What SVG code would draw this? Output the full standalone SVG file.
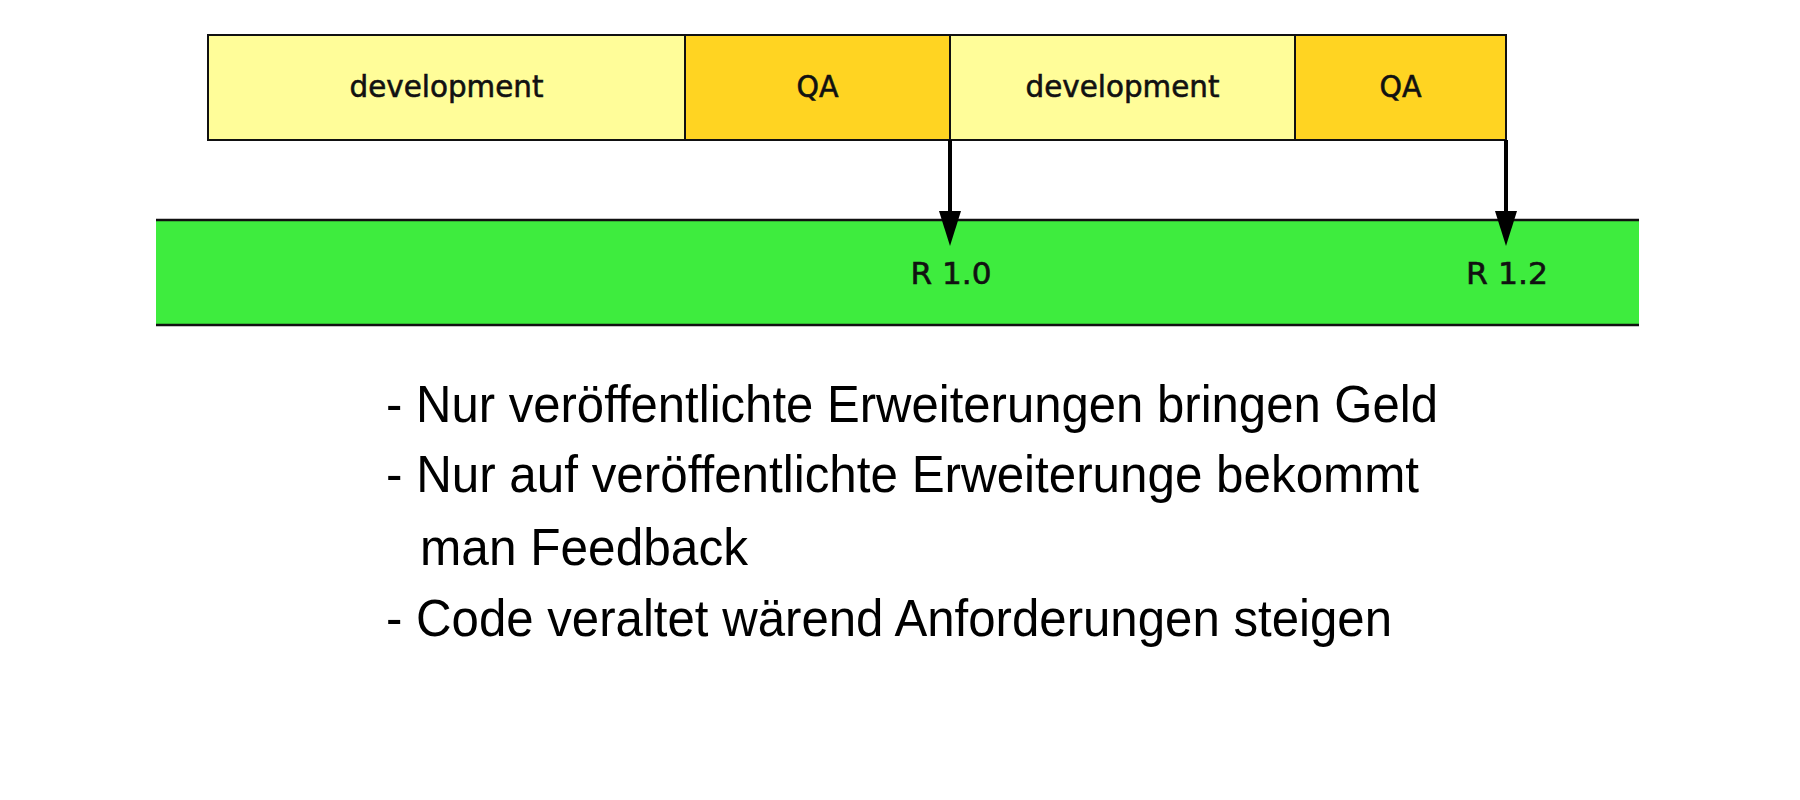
<svg xmlns="http://www.w3.org/2000/svg" width="1800" height="800" viewBox="0 0 1800 800">
  <style>
    .dev { fill: #FFFD99; stroke: #111; stroke-width: 2; }
    .qa { fill: #FFD422; stroke: #111; stroke-width: 2; }
    .lbl { font-family: "DejaVu Sans", "Liberation Sans", sans-serif; font-size: 31px; fill: #111; stroke: #111; stroke-width: 0.6; text-anchor: middle; }
    .body { font-family: "Liberation Sans", Arial, sans-serif; font-size: 52px; fill: #000; }
    .conn { stroke: #000; stroke-width: 4; fill: none; }
    .band-edge { stroke: #111; stroke-width: 2.5; }
  </style>
  <defs>
    <marker id="arrow" markerUnits="userSpaceOnUse" markerWidth="36" markerHeight="24" viewBox="0 0 36 24" refX="0" refY="12" orient="auto">
      <path d="M0,1 L35,12 L0,23 z" fill="#000"/>
    </marker>
  </defs>
  <rect width="1800" height="800" fill="#fff"/>

  <g id="release-band">
    <rect x="156" y="220" width="1483" height="105" fill="#3EEC3E"/>
    <line class="band-edge" x1="156" y1="220" x2="1639" y2="220"/>
    <line class="band-edge" x1="156" y1="325" x2="1639" y2="325"/>
  </g>

  <g id="dev1">
    <rect class="dev" x="208" y="35" width="477" height="105"/>
    <text class="lbl" x="446.5" y="97" textLength="194" lengthAdjust="spacingAndGlyphs">development</text>
  </g>
  <g id="qa1">
    <rect class="qa" x="685" y="35" width="265" height="105"/>
    <text class="lbl" x="817.5" y="97" textLength="42" lengthAdjust="spacingAndGlyphs">QA</text>
  </g>
  <g id="dev2">
    <rect class="dev" x="950" y="35" width="345" height="105"/>
    <text class="lbl" x="1122.5" y="97" textLength="194" lengthAdjust="spacingAndGlyphs">development</text>
  </g>
  <g id="qa2">
    <rect class="qa" x="1295" y="35" width="211" height="105"/>
    <text class="lbl" x="1400.5" y="97" textLength="42" lengthAdjust="spacingAndGlyphs">QA</text>
  </g>

  <g id="connectors">
    <line class="conn" x1="950" y1="140" x2="950" y2="211" marker-end="url(#arrow)"/>
    <line class="conn" x1="1506" y1="140" x2="1506" y2="211" marker-end="url(#arrow)"/>
  </g>

  <g id="r10">
    <text class="lbl" x="951" y="284" textLength="81" lengthAdjust="spacingAndGlyphs">R 1.0</text>
  </g>
  <g id="r12">
    <text class="lbl" x="1507" y="284" textLength="82" lengthAdjust="spacingAndGlyphs">R 1.2</text>
  </g>

  <g id="notes">
    <text class="body" x="386" y="422" textLength="1052" lengthAdjust="spacingAndGlyphs">- Nur veröffentlichte Erweiterungen bringen Geld</text>
    <text class="body" x="386" y="492" textLength="1033" lengthAdjust="spacingAndGlyphs">- Nur auf veröffentlichte Erweiterunge bekommt</text>
    <text class="body" x="420" y="565" textLength="328" lengthAdjust="spacingAndGlyphs">man Feedback</text>
    <text class="body" x="386" y="636" textLength="1006" lengthAdjust="spacingAndGlyphs">- Code veraltet wärend Anforderungen steigen</text>
  </g>
</svg>
